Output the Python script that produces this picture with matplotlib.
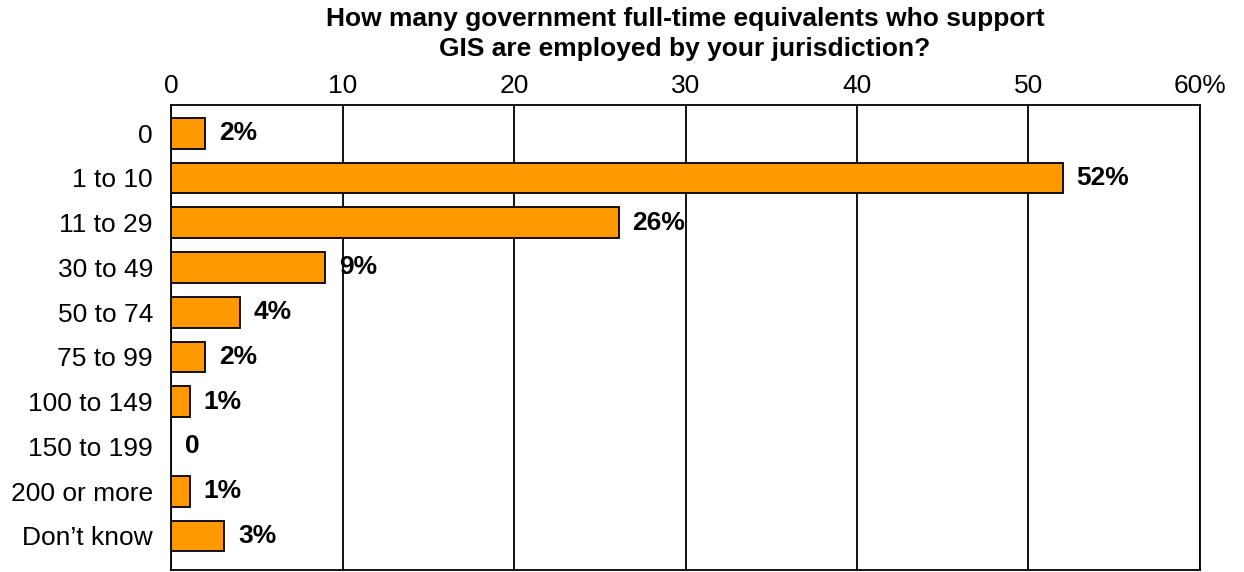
import numpy as np
import matplotlib.pyplot as plt

plt.rcParams['font.family'] = ['Liberation Sans', 'DejaVu Sans']

# Survey answers (top to bottom) and share of respondents in percent
categories = ['0', '1 to 10', '11 to 29', '30 to 49', '50 to 74', '75 to 99',
              '100 to 149', '150 to 199', '200 or more', 'Don\u2019t know']
shares = [2.0, 52.0, 26.1, 9.0, 4.0, 2.0, 1.1, 0.0, 1.1, 3.1]
bar_labels = ['2%', '52%', '26%', '9%', '4%', '2%', '1%', '0', '1%', '3%']
x_ticks = [0, 10, 20, 30, 40, 50, 60]
x_ticklabels = ['0', '10', '20', '30', '40', '50', '60%']

fig = plt.figure(figsize=(12.44, 5.72), dpi=100)
ax = fig.add_axes([171 / 1244, 2 / 572, 1029 / 1244, 465 / 572])

ind = np.arange(len(categories))
ax.barh(ind, shares, height=0.69, color='#FF9900', edgecolor='black',
        linewidth=1.3, zorder=3)

for y, v, lab in zip(ind, shares, bar_labels):
    ax.annotate(lab, xy=(v, y), xytext=(10, 0), textcoords='offset points',
                ha='left', va='center', fontsize=19, fontweight='bold', zorder=4)

ax.set_xlim(0, 60)
ax.set_ylim(9.76, -0.63)
ax.set_yticks(ind)
ax.set_yticklabels(categories, fontsize=19)
ax.set_xticks(x_ticks)
ax.set_xticklabels(x_ticklabels, fontsize=19)
ax.xaxis.tick_top()
ax.tick_params(axis='x', length=0, pad=5)
ax.tick_params(axis='y', length=0, pad=13)

ax.grid(axis='x', color='black', linewidth=1.3, zorder=1)
for s in ax.spines.values():
    s.set_linewidth(1.3)

fig.text(685 / 1244, 1 - 7 / 572,
         'How many government full-time equivalents who support\nGIS are employed by your jurisdiction?',
         ha='center', va='top', fontsize=19, fontweight='bold', linespacing=1.3)

fig.savefig('out.png', dpi=100)
